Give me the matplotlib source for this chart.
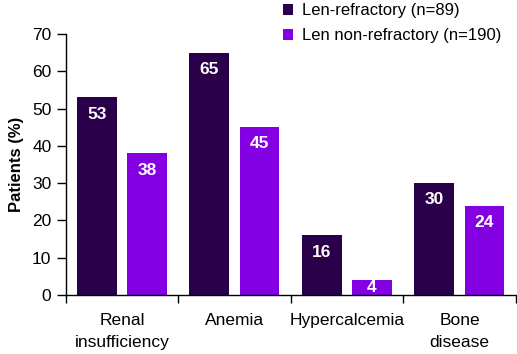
import numpy as np
import matplotlib
matplotlib.use("Agg")
import matplotlib.pyplot as plt

plt.rcParams["font.family"] = ["Liberation Sans", "DejaVu Sans"]

categories = ["Renal\ninsufficiency", "Anemia", "Hypercalcemia", "Bone\ndisease"]
refractory = [53, 65, 16, 30]
non_refractory = [38, 45, 4, 24]
series_names = ["Len-refractory (n=89)", "Len non-refractory (n=190)"]

dark = "#2B004B"
bright = "#8300E3"

fig = plt.figure(figsize=(5.17, 3.54), dpi=100)
ax = fig.add_axes([66 / 517, 1 - 295 / 354, 1 - 66 / 517 - 0.002, (295 - 34) / 354])

x = np.arange(len(categories))
w = 0.355
b1 = ax.bar(x - 0.225, refractory, w, color=dark, label=series_names[0])
b2 = ax.bar(x + 0.22, non_refractory, w, color=bright, label=series_names[1])

for bars in (b1, b2):
    for rect in bars:
        h = rect.get_height()
        # labels sit just under the bar top; tiny bars get them centred
        ypos = max(h - 4.5, h / 2)
        ax.text(rect.get_x() + rect.get_width() / 2, ypos, f"{h:g}",
                ha="center", va="center", color="white", fontsize=12.5, fontweight="bold")

ax.set_xlim(-0.5, len(categories) - 0.5)
ax.set_ylim(0, 70)
ax.set_yticks(range(0, 71, 10))
ax.tick_params(axis="y", labelsize=12.5, length=6.5, width=1, direction="out", pad=4)
ax.set_xticks(np.arange(len(categories) + 1) - 0.5)
ax.set_xticklabels([])
ax.tick_params(axis="x", length=6, width=1, direction="out")
ax.set_xticks(x, minor=True)
ax.set_xticklabels(categories, minor=True, fontsize=12.5, linespacing=1.55)
ax.tick_params(axis="x", which="minor", length=0, pad=13)

for s in ("top", "right"):
    ax.spines[s].set_visible(False)
for s in ("left", "bottom"):
    ax.spines[s].set_linewidth(1)

ax.set_ylabel("Patients (%)", fontsize=12, fontweight="bold", labelpad=6)

fig.legend(handles=[b1, b2], loc="upper left", bbox_to_anchor=(280 / 517, 1.0),
           frameon=False, fontsize=12, handlelength=0.6, handleheight=0.6,
           handletextpad=0.5, labelspacing=0.6, borderaxespad=0.0, borderpad=0.2)

fig.savefig("out.png", dpi=100)
